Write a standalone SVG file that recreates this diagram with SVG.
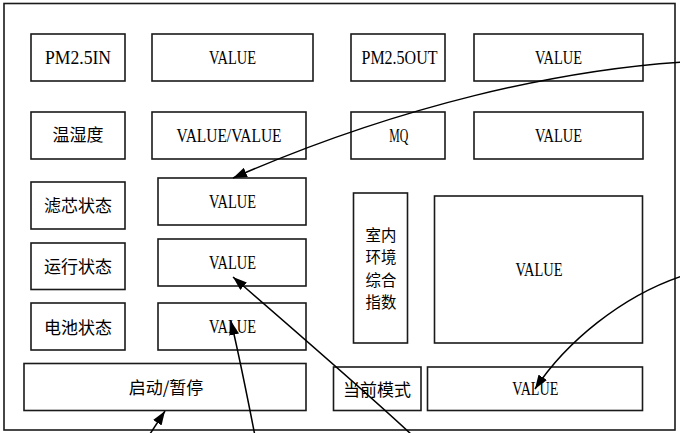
<svg xmlns="http://www.w3.org/2000/svg" width="680" height="433" viewBox="0 0 680 433">
<style>
.box{fill:none;stroke:#1a1a1a;stroke-width:1.6}
.t{font-family:"Liberation Serif","Noto Sans CJK SC",serif;font-size:18px;text-anchor:middle;fill:#000}
.c{font-family:"Noto Sans CJK SC","Liberation Serif",sans-serif;font-size:17px;text-anchor:middle;fill:#000}
.v{font-family:"Noto Sans CJK SC","Liberation Serif",sans-serif;font-size:15.4px;text-anchor:middle;fill:#000}
.edge{fill:none;stroke:#000;stroke-width:1.5}
</style>
<defs>
<marker id="ah" markerWidth="14" markerHeight="10" refX="14" refY="5" orient="auto" markerUnits="userSpaceOnUse">
<path d="M0,0 L14,5 L0,10 Z" fill="#000"/>
</marker>
</defs>
<rect x="0" y="0" width="680" height="433" fill="#fff"/>
<g id="frame"><rect class="box" x="4" y="3.5" width="671" height="426.5"/></g>

<g id="pm25in"><rect class="box" x="31" y="34" width="94" height="47"/><text class="t" x="78" y="64" textLength="66" lengthAdjust="spacingAndGlyphs">PM2.5IN</text></g>
<g id="pm25in_val"><rect class="box" x="152" y="34" width="161" height="47"/><text class="t" x="232.5" y="64" textLength="47" lengthAdjust="spacingAndGlyphs">VALUE</text></g>
<g id="pm25out"><rect class="box" x="351" y="34" width="94" height="47"/><text class="t" x="399.5" y="64" textLength="76" lengthAdjust="spacingAndGlyphs">PM2.5OUT</text></g>
<g id="pm25out_val"><rect class="box" x="474" y="34" width="169" height="47"/><text class="t" x="558.5" y="64" textLength="47" lengthAdjust="spacingAndGlyphs">VALUE</text></g>

<g id="temphum"><rect class="box" x="31" y="112" width="94" height="47"/><text class="c" x="78" y="141">温湿度</text></g>
<g id="temphum_val"><rect class="box" x="152" y="112" width="154" height="47"/><text class="t" x="229" y="141.5" textLength="105" lengthAdjust="spacingAndGlyphs">VALUE/VALUE</text></g>
<g id="mq"><rect class="box" x="351" y="112" width="94" height="47"/><text class="t" x="398.8" y="141.5" textLength="19" lengthAdjust="spacingAndGlyphs">MQ</text></g>
<g id="mq_val"><rect class="box" x="474" y="112" width="169" height="47"/><text class="t" x="558.5" y="141.5" textLength="47" lengthAdjust="spacingAndGlyphs">VALUE</text></g>

<g id="filter"><rect class="box" x="31" y="182" width="94" height="47"/><text class="c" x="78" y="212">滤芯状态</text></g>
<g id="filter_val"><rect class="box" x="158" y="178" width="148" height="47"/><text class="t" x="232.5" y="208" textLength="47" lengthAdjust="spacingAndGlyphs">VALUE</text></g>
<g id="run"><rect class="box" x="31" y="243" width="94" height="46.5"/><text class="c" x="78" y="272.5">运行状态</text></g>
<g id="run_val"><rect class="box" x="158" y="239" width="148" height="47"/><text class="t" x="232.5" y="269" textLength="47" lengthAdjust="spacingAndGlyphs">VALUE</text></g>
<g id="battery"><rect class="box" x="31" y="303" width="94" height="47"/><text class="c" x="78" y="333.5">电池状态</text></g>
<g id="battery_val"><rect class="box" x="158" y="303" width="148" height="47"/><text class="t" x="232.5" y="333" textLength="47" lengthAdjust="spacingAndGlyphs">VALUE</text></g>
<g id="startstop"><rect class="box" x="24" y="363.5" width="282" height="47"/><text class="c" x="166" y="394">启动/暂停</text></g>

<g id="index"><rect class="box" x="353.5" y="193" width="54" height="150"/>
<text class="v" x="381" y="240.5"><tspan x="381" y="240.5">室内</tspan><tspan x="381" y="263">环境</tspan><tspan x="381" y="285.5">综合</tspan><tspan x="381" y="308">指数</tspan></text></g>
<g id="index_val"><rect class="box" x="434.5" y="196" width="208" height="147"/><text class="t" x="539" y="275.5" textLength="47" lengthAdjust="spacingAndGlyphs">VALUE</text></g>
<g id="mode"><rect class="box" x="333.5" y="367" width="87.5" height="43.5"/><text class="c" x="377" y="395.5">当前模式</text></g>
<g id="mode_val"><rect class="box" x="427.5" y="367" width="215" height="43.5"/><text class="t" x="535.3" y="395" textLength="46" lengthAdjust="spacingAndGlyphs">VALUE</text></g>

<g id="connectors">
<path class="edge" marker-end="url(#ah)" d="M682,62 C560,70 400,105 233,178"/>
<path class="edge" marker-end="url(#ah)" d="M682,276 C622,296 566,342 535,389"/>
<path class="edge" marker-end="url(#ah)" d="M412,435 C380,405 300,335 233,277"/>
<path class="edge" marker-end="url(#ah)" d="M255,436 C248,400 240,360 231,321"/>
<path class="edge" marker-end="url(#ah)" d="M148,437 L165,411"/>
</g>
</svg>
